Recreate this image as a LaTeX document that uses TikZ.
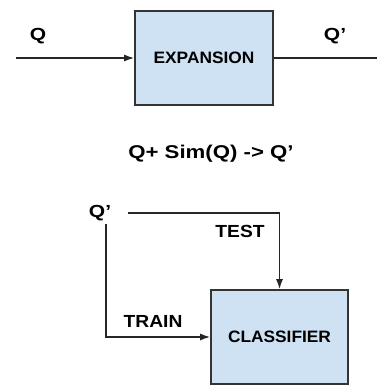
\documentclass[tikz,border=0pt]{standalone}
\usepackage{fontspec}
\setmainfont{Liberation Sans}
\usetikzlibrary{positioning, arrows.meta}

\newcommand{\hwide}[2]{\scalebox{#1}[1]{#2}}

\begin{document}
\begin{tikzpicture}[
    x=1pt, y=-1pt,
    block/.style={rectangle, draw=black!80, line width=1.6pt, fill={rgb,255:red,207;green,226;blue,243}, minimum width=138pt, minimum height=94pt, font=\bfseries\fontsize{16.5}{18}\selectfont},
    label/.style={font=\bfseries\fontsize{17.5}{19}\selectfont, inner sep=0pt},
    line/.style={draw, black!85, line width=1.4pt, -{Latex[length=10pt, width=7pt]}},
    plain/.style={draw, black!85, line width=1.4pt}
]
\useasboundingbox (0,0) rectangle (377,385);

% expansion stage
\node [block] (expansion) at (204,58) {\hwide{1.05}{EXPANSION}};
\coordinate (qin) at (16,58);
\coordinate (qout) at (377,58);
\node [label] (q) at (38,36) {\hwide{1.2}{Q}};
\node [label] (qp) at (335,36) {\hwide{1.2}{Q’}};

\path [line] (qin) -- (expansion);
\path [plain] (expansion) -- (qout);

\node [label, font=\bfseries\fontsize{18.5}{20}\selectfont] (rule) at (211,154) {\hwide{1.2}{Q+ Sim(Q) -> Q’}};

% classifier stage
\node [block, minimum width=137pt] (classifier) at (279.5,337) {\hwide{1.05}{CLASSIFIER}};
\node [label] (qp2) at (100,213) {\hwide{1.2}{Q’}};
\node [label] (test) at (240,231) {\hwide{1.1}{TEST}};
\node [label] (train) at (153,321) {\hwide{1.1}{TRAIN}};

\path [line] ([xshift=17pt]qp2.east) -| (classifier.north);
\path [line] ([xshift=6pt, yshift=-3pt]qp2.south) |- (classifier.west);

\end{tikzpicture}
\end{document}
